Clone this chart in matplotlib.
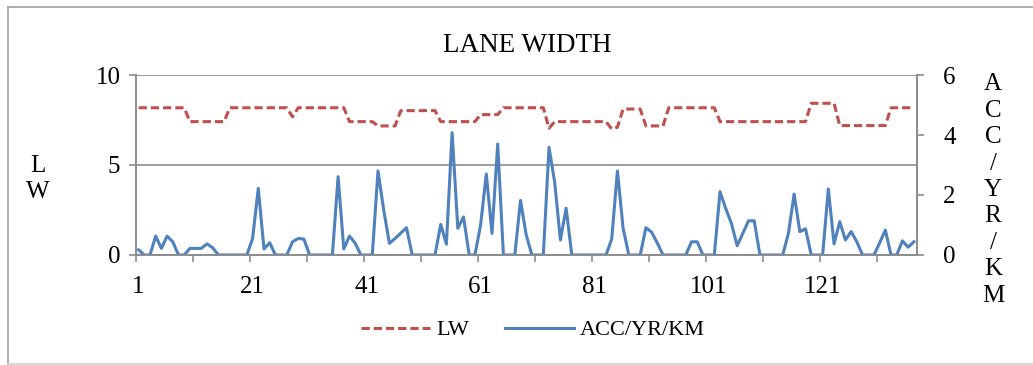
import matplotlib
matplotlib.use("Agg")
import matplotlib.pyplot as plt
from matplotlib.lines import Line2D

plt.rcParams['font.family'] = ['Liberation Serif', 'DejaVu Serif']
plt.rcParams['font.size'] = 18

# lane width (left axis)
lw = ([8.18] * 9 + [7.41] * 7 + [8.18] * 11 + [7.68] + [8.18] * 9 +
      [7.41] * 5 + [7.17] * 4 + [8.02] * 7 + [7.41] * 7 + [7.8] * 4 +
      [8.18] * 8 + [7.04] + [7.41] * 10 + [7.0, 7.1] + [8.11] * 4 +
      [7.17] * 4 + [8.18] * 9 + [7.41] * 16 + [8.43] * 5 + [7.19] * 9 +
      [8.18] * 5)

# accidents / year / km (right axis)
acc = [0.17, 0, 0, 0.63, 0.22, 0.63, 0.44, 0, 0, 0.22,
       0.22, 0.22, 0.37, 0.24, 0, 0, 0, 0, 0, 0,
       0.55, 2.22, 0.2, 0.41, 0, 0, 0, 0.44, 0.55, 0.53,
       0, 0, 0, 0, 0, 2.61, 0.2, 0.63, 0.39, 0,
       0, 0, 2.8, 1.5, 0.39, 0.55, 0.73, 0.91, 0, 0,
       0, 0, 0, 1.02, 0.36, 4.08, 0.89, 1.27, 0, 0,
       1.0, 2.7, 0.72, 3.7, 0, 0, 0, 1.82, 0.67, 0,
       0, 0, 3.59, 2.42, 0.5, 1.56, 0, 0, 0, 0,
       0, 0, 0, 0.53, 2.8, 0.89, 0, 0, 0, 0.91,
       0.76, 0.4, 0, 0, 0, 0, 0, 0.44, 0.44, 0,
       0, 0, 2.11, 1.55, 1.05, 0.31, 0.72, 1.14, 1.14, 0,
       0, 0, 0, 0, 0.72, 2.03, 0.78, 0.87, 0, 0,
       0, 2.2, 0.37, 1.11, 0.5, 0.78, 0.44, 0, 0, 0,
       0.4, 0.83, 0, 0, 0.47, 0.26, 0.44]

x = list(range(1, len(acc) + 1))
xlabels = [1, 21, 41, 61, 81, 101, 121]

red = '#C0504D'
blue = '#4F81BD'
gray = '#8C8C8C'

fig = plt.figure(figsize=(10.33, 3.65), dpi=100)
ax = fig.add_axes([0.1314, 0.3014, 0.756, 0.4931])
ax2 = ax.twinx()

ax.plot(x, lw, color=red, lw=2.2, linestyle=(0, (2.7, 1.3)))
ax2.plot(x, acc, color=blue, lw=2.2)

ax.set_xlim(0.5, len(acc) + 0.5)
ax.set_ylim(0, 10)
ax2.set_ylim(0, 6)
ax.set_yticks([0, 5, 10])
ax2.set_yticks([0, 2, 4, 6])
ax.set_xticks(xlabels)
ax.set_xticks([0.5 + 10 * k for k in range(14)], minor=True)
ax.tick_params(axis='x', which='major', length=0, pad=15)
ax.tick_params(axis='x', which='minor', length=5, width=1.2, color=gray, direction='out')
ax.tick_params(axis='y', length=5, width=1.2, color=gray, pad=6)
ax2.tick_params(axis='y', length=5, width=1.2, color=gray, pad=14)

ax.grid(axis='y', color=gray, lw=1.2)
ax.set_axisbelow(True)
for a in (ax, ax2):
    for s in a.spines.values():
        s.set_color(gray)
        s.set_linewidth(1.2)
    a.spines['top'].set_visible(False)

fig.text(527 / 1033, 1 - 45 / 365, 'LANE WIDTH', ha='center', va='center', fontsize=19.5)
fig.text(38 / 1033, 1 - 179 / 365, 'L\nW', ha='center', va='center', linespacing=1.26)
fig.text(993 / 1033, 1 - 190 / 365, 'A\nC\nC\n/\nY\nR\n/\nK\nM', ha='center', va='center',
         linespacing=1.26)

handles = [Line2D([], [], color=red, lw=2.2, linestyle=(0, (2.7, 1.3))),
           Line2D([], [], color=blue, lw=2.2)]
fig.legend(handles, ['LW', 'ACC/YR/KM'], loc='center', bbox_to_anchor=(533 / 1033, 1 - 330 / 365),
           ncol=2, frameon=False, fontsize=16, handlelength=3.1, handletextpad=0.3,
           columnspacing=1.6)

# outer chart border
fig.add_artist(Line2D([7.5 / 1033, 7.5 / 1033], [1 - 7 / 365, 1 - 364 / 365], color='#A0A0A0', lw=1.2))
fig.add_artist(Line2D([7.5 / 1033, 1], [1 - 7 / 365, 1 - 7 / 365], color='#A0A0A0', lw=1.2))
fig.add_artist(Line2D([7.5 / 1033, 1], [1 - 364 / 365, 1 - 364 / 365], color='#D0D0D0', lw=1.2))

fig.savefig('out.png', dpi=100)
